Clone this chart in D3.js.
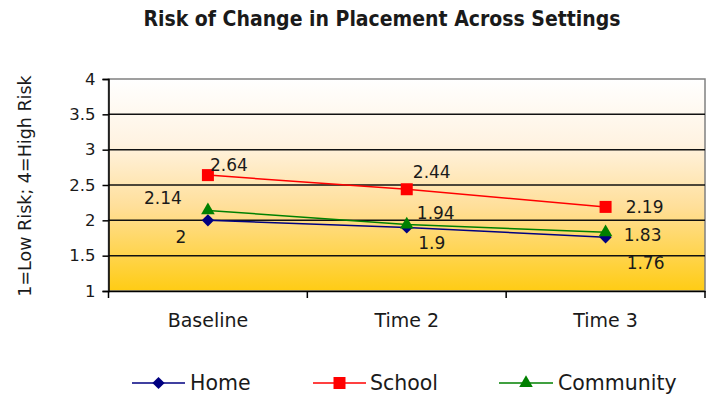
<!DOCTYPE html>
<html><head><meta charset="utf-8">
<script src="https://cdn.jsdelivr.net/npm/d3@7"></script>
<style>body{margin:0;background:#fff}svg{display:block}text{font-family:"DejaVu Sans",sans-serif;fill:#1a1a1a}</style>
</head><body><div id="chart"></div>
<script>
const categories = ["Baseline", "Time 2", "Time 3"];
const seriesNames = ["Home", "School", "Community"];
const homeValues = [2, 1.9, 1.76];
const schoolValues = [2.64, 2.44, 2.19];
const communityValues = [2.14, 1.94, 1.83];
const yTicks = [1, 1.5, 2, 2.5, 3, 3.5, 4];
const titleText = "Risk of Change in Placement Across Settings";
const yLabel = "1=Low Risk; 4=High Risk";

const W = 710, H = 395;
const m = {left: 108.5, right: 5, top: 79, bottom: 104};
const svg = d3.select("#chart").append("svg").attr("width", W).attr("height", H);
const x = d3.scaleBand().domain(categories).range([m.left, W - m.right]);
const y = d3.scaleLinear().domain([1, 4]).range([H - m.bottom, m.top]);

const defs = svg.append("defs");
const g = defs.append("linearGradient").attr("id", "bg").attr("x1", 0).attr("y1", 0).attr("x2", 0).attr("y2", 1);
g.append("stop").attr("offset", "0%").attr("stop-color", "#ffffff");
g.append("stop").attr("offset", "30%").attr("stop-color", "#fff3e2");
g.append("stop").attr("offset", "60%").attr("stop-color", "#ffdf9a");
g.append("stop").attr("offset", "100%").attr("stop-color", "#ffcc14");

svg.append("rect").attr("x", m.left).attr("y", m.top).attr("width", W - m.right - m.left)
  .attr("height", H - m.bottom - m.top).attr("fill", "url(#bg)").attr("stroke", "#808080").attr("stroke-width", 1.5);

svg.append("g").selectAll("line").data(yTicks.filter(t => t > 1 && t < 4)).join("line")
  .attr("x1", m.left).attr("x2", W - m.right).attr("y1", d => y(d)).attr("y2", d => y(d))
  .attr("stroke", "#111").attr("stroke-width", 1.5);

const ya = svg.append("g").attr("transform", `translate(${m.left},0)`)
  .call(d3.axisLeft(y).tickValues(yTicks).tickSize(6).tickPadding(7).tickFormat(d3.format("")));
ya.select(".domain").attr("stroke", "#000").attr("stroke-width", 1.5);
ya.selectAll(".tick line").attr("stroke", "#000").attr("stroke-width", 1.5);
ya.selectAll("text").attr("font-size", 16.5).attr("fill", "#1a1a1a").style("font-family", '"DejaVu Sans",sans-serif');

const xa = svg.append("g").attr("transform", `translate(0,${H - m.bottom})`)
  .call(d3.axisBottom(x).tickSize(0).tickPadding(23));
xa.select(".domain").attr("stroke", "#000").attr("stroke-width", 1.5);
xa.selectAll("text").attr("font-size", 19).attr("fill", "#1a1a1a").style("font-family", '"DejaVu Sans",sans-serif');
xa.selectAll(".sep").data(categories).join("line").attr("class", "sep")
  .attr("x1", d => x(d)).attr("x2", d => x(d)).attr("y1", 0).attr("y2", 7).attr("stroke", "#000").attr("stroke-width", 1.5);
xa.append("line").attr("x1", W - m.right).attr("x2", W - m.right).attr("y1", 0).attr("y2", 7).attr("stroke", "#000").attr("stroke-width", 1.5);

const diamond = {draw(ctx, size) { const r = Math.sqrt(size) / 2; ctx.moveTo(0, -r); ctx.lineTo(r, 0); ctx.lineTo(0, r); ctx.lineTo(-r, 0); ctx.closePath(); }};
const cx = c => x(c) + x.bandwidth() / 2;
const series = [
  {name: seriesNames[0], vals: homeValues, color: "#000080", marker: diamond, size: 150,
   labelDx: [-27, 25, 40], labelDy: [17, 16, 26]},
  {name: seriesNames[1], vals: schoolValues, color: "#ff0000", marker: d3.symbolSquare, size: 144,
   labelDx: [21, 25, 39], labelDy: [-10, -17, 0]},
  {name: seriesNames[2], vals: communityValues, color: "#008000", marker: d3.symbolTriangle, size: 80,
   labelDx: [-45, 29, 37], labelDy: [-12, -12, 3]}
];
const line = d3.line().x((d, i) => cx(categories[i])).y(d => y(d));
series.forEach(s => {
  svg.append("path").datum(s.vals).attr("d", line).attr("fill", "none").attr("stroke", s.color).attr("stroke-width", 1.5);
});
series.forEach(s => {
  svg.append("g").selectAll("path").data(s.vals).join("path")
    .attr("d", d3.symbol().type(s.marker).size(s.size))
    .attr("transform", (d, i) => `translate(${cx(categories[i])},${y(d)})`)
    .attr("fill", s.color);
});
series.forEach(s => {
  svg.append("g").selectAll("text").data(s.vals).join("text")
    .attr("x", (d, i) => cx(categories[i]) + s.labelDx[i])
    .attr("y", (d, i) => y(d) + s.labelDy[i])
    .attr("text-anchor", "middle").attr("dominant-baseline", "central")
    .attr("font-size", 17).text(d => d);
});

svg.append("text").attr("x", 382).attr("y", 26).attr("text-anchor", "middle")
  .style("font-family", '"DejaVu Sans Condensed","DejaVu Sans",sans-serif')
  .attr("font-size", 21).attr("font-weight", "bold").attr("fill", "#000").text(titleText);

svg.append("text").attr("transform", `translate(25,186) rotate(-90)`).attr("text-anchor", "middle")
  .attr("dominant-baseline", "central").attr("font-size", 17.5).text(yLabel);

const legLine = [[132, 185], [313, 366], [499, 553]];
const legText = [190, 370, 558];
series.forEach((s, i) => {
  const gg = svg.append("g").attr("transform", "translate(0,383)");
  gg.append("line").attr("x1", legLine[i][0]).attr("x2", legLine[i][1]).attr("stroke", s.color).attr("stroke-width", 1.5);
  gg.append("path").attr("d", d3.symbol().type(s.marker).size(s.size))
    .attr("transform", `translate(${(legLine[i][0] + legLine[i][1]) / 2},0)`).attr("fill", s.color);
  gg.append("text").attr("x", legText[i]).attr("y", 0).attr("dominant-baseline", "central").attr("font-size", 20.5).text(s.name);
});
</script></body></html>
